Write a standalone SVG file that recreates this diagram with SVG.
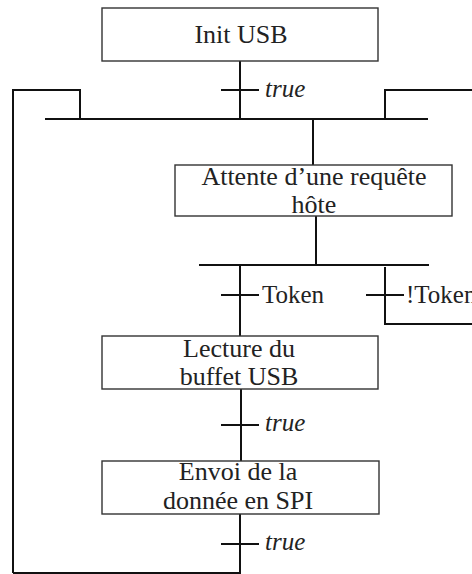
<svg xmlns="http://www.w3.org/2000/svg" width="472" height="574" viewBox="0 0 472 574">
<style>
.box{fill:#fff;stroke:#333;stroke-width:1.4}
.ln{fill:none;stroke:#111;stroke-width:2}
text{font-family:"Liberation Serif","DejaVu Serif",serif;fill:#222}
.t{font-size:26px;text-anchor:middle}
.l{font-size:25px}
.i{font-style:italic}
</style>
<rect width="472" height="574" fill="#fff"/>
<g id="connectors">
<path class="ln" d="M240 61V119"/>
<path class="ln" d="M221 90H259"/>
<path class="ln" d="M45 119H428"/>
<path class="ln" d="M13 573V90H80V119"/>
<path class="ln" d="M385 119V90H472"/>
<path class="ln" d="M313 119V165"/>
<path class="ln" d="M316 216V265"/>
<path class="ln" d="M199 265H429"/>
<path class="ln" d="M240 265V336"/>
<path class="ln" d="M221 295H259"/>
<path class="ln" d="M385 267V324H472"/>
<path class="ln" d="M366 295H404"/>
<path class="ln" d="M241 389V461"/>
<path class="ln" d="M221 425H259"/>
<path class="ln" d="M240 514V573H13"/>
<path class="ln" d="M221 544H259"/>
<text class="l i" x="265" y="97">true</text>
<text class="l" x="262" y="303">Token</text>
<text class="l" x="406" y="303">!Token</text>
<text class="l i" x="265" y="431">true</text>
<text class="l i" x="265" y="550">true</text>
</g>
<g id="init">
<rect class="box" x="102" y="8" width="276" height="53"/>
<text class="t" x="241" y="43">Init USB</text>
</g>
<g id="attente">
<rect class="box" x="175" y="165" width="277" height="51"/>
<text class="t" x="314" y="185">Attente d’une requête</text>
<text class="t" x="314" y="213">hôte</text>
</g>
<g id="lecture">
<rect class="box" x="102" y="336" width="276" height="53"/>
<text class="t" x="239" y="357">Lecture du</text>
<text class="t" x="239" y="385">buffet USB</text>
</g>
<g id="envoi">
<rect class="box" x="102" y="461" width="277" height="53"/>
<text class="t" x="238" y="480">Envoi de la</text>
<text class="t" x="238" y="509">donnée en SPI</text>
</g>
</svg>
